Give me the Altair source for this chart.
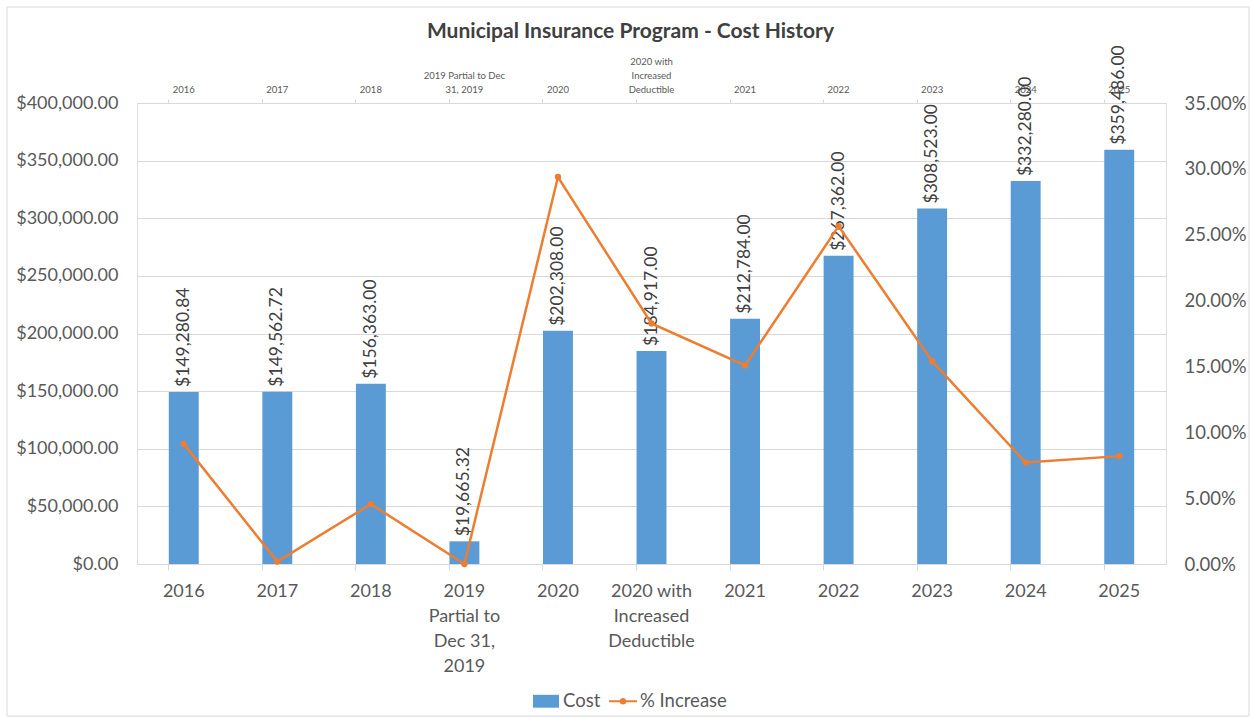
import json
import altair as alt
import pandas as pd

categories = ["2016", "2017", "2018", "2019 Partial to Dec 31, 2019", "2020",
              "2020 with Increased Deductible", "2021", "2022", "2023", "2024", "2025"]
bottom_labels = ["2016", "2017", "2018", "2019|Partial to|Dec 31,|2019", "2020",
                 "2020 with|Increased|Deductible", "2021", "2022", "2023", "2024", "2025"]
top_labels = ["2016", "2017", "2018", "2019 Partial to Dec|31, 2019", "2020",
              "2020 with|Increased|Deductible", "2021", "2022", "2023", "2024", "2025"]
cost = [149280.84, 149562.72, 156363.00, 19665.32, 202308.00, 184917.00,
        212784.00, 267362.00, 308523.00, 332280.00, 359486.00]
pct_increase = [0.0912, 0.0019, 0.0455, 0.0, 0.2938, 0.1826,
                0.1507, 0.2565, 0.1540, 0.0770, 0.0819]
series_names = ["Cost", "% Increase"]
series_colors = ["#5B9BD5", "#ED7D31"]
cost_ticks = [0, 50000, 100000, 150000, 200000, 250000, 300000, 350000, 400000]
pct_ticks = [0, 0.05, 0.10, 0.15, 0.20, 0.25, 0.30, 0.35]

df = pd.DataFrame({"category": categories, "cost": cost, "pct": pct_increase})
legend_df = pd.DataFrame({"series": series_names})
frame_df = pd.DataFrame({"frame": ["chart area"]})

FONT = "Lato"
GRID = "#d9d9d9"
LABEL = "#595959"
TOP_LH = 14
TOP_PAD = 9


def label_expr(labels):
    return "split(%s[indexof(%s, datum.value)], '|')" % (json.dumps(labels), json.dumps(categories))


# top labels stack downward from the first line, so lift multi-line labels by their extra lines
top_conditions = []
for cat, lab in zip(categories, top_labels):
    n = lab.count("|")
    if n > 0:
        top_conditions.append({"test": "datum.value == %s" % json.dumps(cat),
                               "value": TOP_PAD + n * TOP_LH})
top_padding = {"condition": top_conditions, "value": TOP_PAD}

x_scale = alt.Scale(domain=categories, paddingInner=0.68, paddingOuter=0.34)
cost_scale = alt.Scale(domain=[0, 400000], nice=False, zero=True)
pct_scale = alt.Scale(domain=[0, 0.35], nice=False, zero=True)

# light chart-area border (decoration, as in the spreadsheet chart)
frame = alt.Chart(frame_df).mark_rect(fill="transparent", stroke="#d9d9d9", strokeWidth=1).encode(
    x=alt.value(-130), x2=alt.value(1112), y=alt.value(-96), y2=alt.value(613)
)

bars = alt.Chart(df).mark_bar(color=series_colors[0]).encode(
    x=alt.X("category:N", scale=x_scale, sort=None, title=None,
            axis=alt.Axis(orient="bottom", labelExpr=label_expr(bottom_labels), labelAngle=0,
                          labelFontSize=18, labelColor=LABEL, labelFont=FONT, labelLineHeight=25,
                          labelPadding=18, ticks=False, tickSize=0, domain=True, domainColor=GRID,
                          domainWidth=1, grid=False, labelBaseline="top")),
    y=alt.Y("cost:Q", scale=cost_scale, title=None,
            axis=alt.Axis(orient="left", format="$,.2f", values=cost_ticks, grid=True,
                          gridColor=GRID, gridWidth=1, domain=False, ticks=False,
                          labelFontSize=18, labelColor=LABEL, labelFont=FONT, labelPadding=19)),
)

value_labels = alt.Chart(df).mark_text(angle=270, align="left", baseline="middle", dx=5,
                                       fontSize=17.5, color="#404040", font=FONT).encode(
    x=alt.X("category:N", scale=x_scale, sort=None, title=None,
            axis=alt.Axis(orient="bottom", labels=False, ticks=True, tickSize=6, tickColor=GRID,
                          bandPosition=0, domain=False, grid=False)),
    y=alt.Y("cost:Q", scale=cost_scale, axis=None),
    text=alt.Text("cost:Q", format="$,.2f"),
)

line = alt.Chart(df).mark_line(color=series_colors[1], strokeWidth=2.5).encode(
    x=alt.X("category:N", scale=x_scale, sort=None, title=None,
            axis=alt.Axis(orient="top", labelExpr=label_expr(top_labels), labelAngle=0,
                          labelFontSize=9.5, labelColor=LABEL, labelFont=FONT,
                          labelLineHeight=TOP_LH, labelPadding=top_padding, ticks=False,
                          tickSize=0, domain=True, domainColor=GRID, grid=False,
                          labelBaseline="bottom")),
    y=alt.Y("pct:Q", scale=pct_scale, title=None,
            axis=alt.Axis(orient="right", format=".2%", values=pct_ticks, grid=False, domain=False,
                          ticks=False, labelFontSize=18.5, labelColor=LABEL, labelFont=FONT,
                          labelPadding=18)),
)

points = alt.Chart(df).mark_point(filled=True, size=40, color=series_colors[1], opacity=1).encode(
    x=alt.X("category:N", scale=x_scale, sort=None, title=None,
            axis=alt.Axis(orient="top", labels=False, ticks=True, tickSize=4, tickColor=GRID,
                          bandPosition=0, domain=False, grid=False)),
    y=alt.Y("pct:Q", scale=pct_scale, axis=None),
)

rect_path = "M-0.93,-0.46H0.93V0.46H-0.93Z"
line_path = ("M-1,-0.08H1V0.08H-1Z "
             "M0.24,0A0.24,0.24 0 1 1 -0.24,0A0.24,0.24 0 1 1 0.24,0Z")


def make_legend():
    return alt.Legend(orient="none", legendX=395, legendY=584, direction="horizontal",
                      title=None, labelFontSize=18.5, labelColor=LABEL, labelFont=FONT,
                      symbolSize=784, symbolStrokeWidth=0, columnPadding=8, labelOffset=3,
                      padding=0)


legend_layer = alt.Chart(legend_df).transform_filter("false").mark_point(
    filled=True, opacity=1).encode(
    color=alt.Color("series:N", scale=alt.Scale(domain=series_names, range=series_colors),
                    legend=make_legend()),
    shape=alt.Shape("series:N", scale=alt.Scale(domain=series_names, range=[rect_path, line_path]),
                    legend=make_legend()),
)

chart = alt.layer(frame, bars, value_labels, line, points, legend_layer).resolve_scale(
    y="independent"
).resolve_axis(
    x="independent", y="independent"
).properties(
    width=1029,
    height=461,
    title=alt.TitleParams("Municipal Insurance Program - Cost History", fontSize=21,
                          fontWeight="bold", color="#404040", font=FONT, anchor="middle",
                          dx=-21, dy=35, offset=0),
    autosize=alt.AutoSizeParams(type="none"),
    padding={"left": 137, "top": 103, "right": 84, "bottom": 153},
).configure_view(stroke=None).configure(font=FONT, background="white")

chart.save("out.html", embed_options={"renderer": "svg", "actions": False})
